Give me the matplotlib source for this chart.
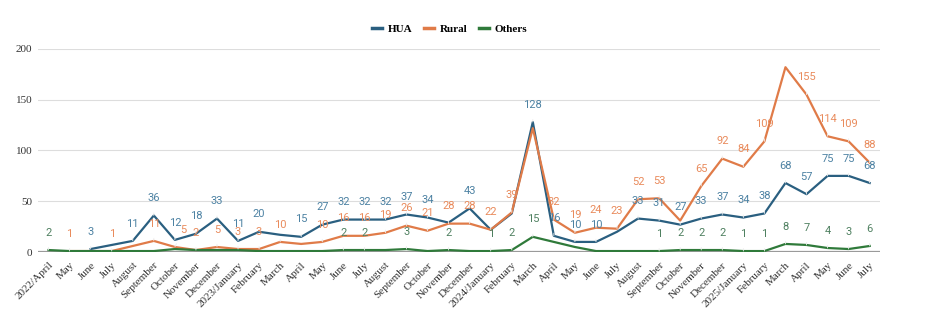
import matplotlib
matplotlib.use("Agg")
import matplotlib.pyplot as plt
import numpy as np

months = ["2022/April", "May", "June", "July", "August", "September", "October", "November",
          "December", "2023/January", "February", "March", "April", "May", "June", "July",
          "August", "September", "October", "November", "December", "2024/January", "February",
          "March", "April", "May", "June", "July", "August", "September", "October", "November",
          "December", "2025/January", "February", "March", "April", "May", "June", "July"]

hua = [None, None, 3, 7, 11, 36, 12, 18, 33, 11, 20, 17, 15, 27, 32, 32, 32, 37, 34, 29, 43,
       22, 38, 128, 16, 10, 10, 20, 33, 31, 27, 33, 37, 34, 38, 68, 57, 75, 75, 68]
rural = [None, 1, 1, 1, 6, 11, 5, 2, 5, 3, 3, 10, 8, 10, 16, 16, 19, 26, 21, 28, 28,
         22, 39, 122, 32, 19, 24, 23, 52, 53, 31, 65, 92, 84, 109, 182, 155, 114, 109, 88]
others = [2, 1, 1, 1, 1, 1, 3, 2, 2, 2, 1, 1, 1, 1, 2, 2, 2, 3, 1, 2, 1,
          1, 2, 15, 10, 5, 1, 1, 1, 1, 2, 2, 2, 1, 1, 8, 7, 4, 3, 6]

# indices whose value labels are visible in the reference
hua_labels = [2, 4, 5, 6, 7, 8, 9, 10, 12, 13, 14, 15, 16, 17, 18, 20, 23, 24, 25, 26, 28, 29,
              30, 31, 32, 33, 34, 35, 36, 37, 38, 39]
rural_labels = [1, 3, 5, 6, 7, 8, 9, 10, 11, 13, 14, 15, 16, 17, 18, 19, 20, 21, 22, 24, 25, 26,
                27, 28, 29, 31, 32, 33, 34, 36, 37, 38, 39]
others_labels = [0, 14, 15, 17, 19, 21, 22, 23, 29, 30, 31, 32, 33, 34, 35, 36, 37, 38, 39]

# small horizontal nudges (points) for crowded labels: (series, index) -> dx
nudges = {("Rural", 6): 6}

series = [
    ("HUA", hua, hua_labels, "#2a5f80", "#4d82a3"),
    ("Rural", rural, rural_labels, "#e07b48", "#e98b5c"),
    ("Others", others, others_labels, "#2f7a3a", "#4f8060"),
]

fig = plt.figure(figsize=(9.41, 3.24), dpi=100)
ax = fig.add_axes([0.0404, 0.222, 0.895, 0.627])

x = np.arange(len(months))
for name, vals, lab_idx, col, lcol in series:
    y = np.array([np.nan if v is None else v for v in vals], dtype=float)
    ax.plot(x, y, color=col, lw=1.6, label=name, zorder=3)
    for i in lab_idx:
        dx = nudges.get((name, i), 0)
        ax.annotate(str(vals[i]), (x[i], vals[i]), xytext=(dx, 12.5), textcoords="offset points",
                    ha="center", va="center", fontsize=8, color=lcol, family="Roboto",
                    arrowprops=dict(arrowstyle="-", color="#ececec", lw=0.6,
                                    shrinkA=5, shrinkB=0), zorder=4)

ax.set_xlim(-0.5, len(months) - 0.5)
ax.set_ylim(0, 200)
ax.set_yticks([0, 50, 100, 150, 200])
ax.grid(axis="y", color="#dddddd", lw=0.8)
ax.set_axisbelow(True)
ax.axhline(0, color="#9a9a9a", lw=1.6, zorder=2)
for s in ax.spines.values():
    s.set_visible(False)
ax.set_xticks(x)
ax.set_xticklabels(months, rotation=45, ha="right", rotation_mode="anchor",
                   family="Liberation Serif", fontsize=8, color="#333333")
for t in ax.get_yticklabels():
    t.set_family("Liberation Serif")
    t.set_fontsize(8)
    t.set_color("#333333")
ax.tick_params(axis="both", length=0, pad=4)
ax.tick_params(axis="x", pad=6)

leg = fig.legend(loc="center", bbox_to_anchor=(0.478, 0.91), ncol=3, frameon=False,
                 prop={"family": "Liberation Serif", "weight": "bold", "size": 8},
                 handlelength=0.9, handletextpad=0.55, columnspacing=1.0)
for h in leg.get_lines():
    h.set_linewidth(2.5)

fig.savefig("out.png", dpi=100)
